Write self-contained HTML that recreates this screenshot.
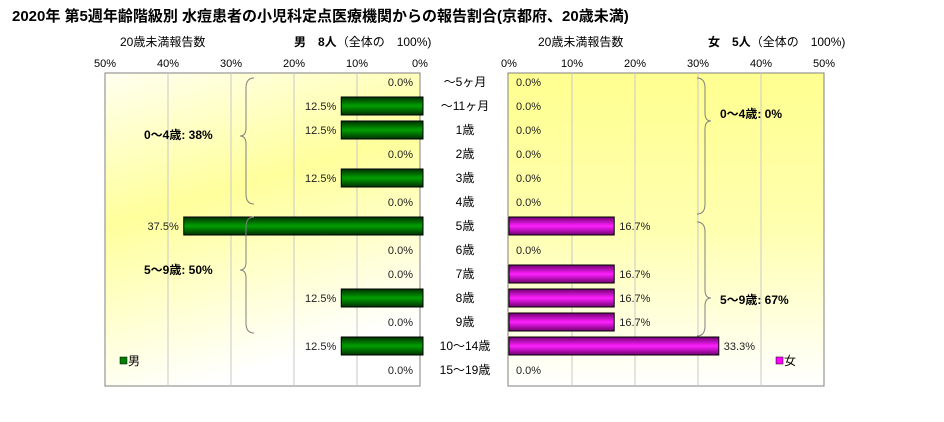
<!DOCTYPE html>
<html><head><meta charset="utf-8">
<style>
body{margin:0;background:#fff;font-family:"Liberation Sans","Noto Sans CJK JP",sans-serif;}
svg text{font-family:"Liberation Sans","Noto Sans CJK JP",sans-serif;}
</style></head>
<body>
<svg id="c" width="944" height="417" viewBox="0 0 944 417" xmlns="http://www.w3.org/2000/svg">
<defs>
<linearGradient id="bg" x1="0" y1="0" x2="0.3" y2="1">
<stop offset="0" stop-color="#fffff0"/><stop offset="0.45" stop-color="#ffff9c"/><stop offset="1" stop-color="#ffffff"/>
</linearGradient>
<linearGradient id="bg2" x1="0" y1="0" x2="0" y2="1">
<stop offset="0" stop-color="#ffff90"/><stop offset="0.5" stop-color="#ffffb0"/><stop offset="1" stop-color="#ffffff"/>
</linearGradient>
<linearGradient id="gm" x1="0" y1="0" x2="0" y2="1">
<stop offset="0" stop-color="#003000"/><stop offset="0.5" stop-color="#00a000"/><stop offset="1" stop-color="#003000"/>
</linearGradient>
<linearGradient id="gf" x1="0" y1="0" x2="0" y2="1">
<stop offset="0" stop-color="#700070"/><stop offset="0.5" stop-color="#ff20ff"/><stop offset="1" stop-color="#700070"/>
</linearGradient>
</defs>
<text x="12" y="21" font-size="15" font-weight="bold">2020年 第5週年齢階級別 水痘患者の小児科定点医療機関からの報告割合(京都府、20歳未満)</text>
<text x="120" y="46" font-size="12">20歳未満報告数</text>
<text x="294" y="46" font-size="12"><tspan font-weight="bold">男　8人</tspan>（全体の　100%)</text>
<text x="538" y="46" font-size="12">20歳未満報告数</text>
<text x="708" y="46" font-size="12"><tspan font-weight="bold">女　5人</tspan>（全体の　100%)</text>
<rect x="105" y="73" width="315" height="313" fill="url(#bg)" stroke="#808080"/>
<rect x="508" y="73" width="316" height="313" fill="url(#bg2)" stroke="#808080"/>
<g id="grid"></g>
<g id="bars"></g>
<g id="brackets" fill="none" stroke="#808080" stroke-width="1">
<path d="M254,78 q-8,0 -8,10 v40 q0,8 -6,8 q6,0 6,8 v50 q0,10 8,10"/>
<path d="M254,217 q-8,0 -8,10 v35 q0,8 -6,8 q6,0 6,8 v45 q0,10 8,10"/>
<path d="M697,78 q8,0 8,10 v25 q0,8 6,8 q-6,0 -6,8 v75 q0,10 -8,10"/>
<path d="M697,222 q8,0 8,10 v58 q0,8 6,8 q-6,0 -6,8 v20 q0,10 -8,10"/>
</g>
<text x="144" y="139" font-size="12" font-weight="bold">0～4歳: 38%</text>
<text x="144" y="274" font-size="12" font-weight="bold">5～9歳: 50%</text>
<text x="720" y="118" font-size="12" font-weight="bold">0～4歳: 0%</text>
<text x="720" y="304" font-size="12" font-weight="bold">5～9歳: 67%</text>
<rect x="120" y="357" width="7" height="7" fill="#008000" stroke="#000" stroke-width="0.5"/>
<text x="128" y="365" font-size="12">男</text>
<rect x="776" y="357" width="7" height="7" fill="#ff00ff" stroke="#000" stroke-width="0.5"/>
<text x="784" y="365" font-size="12">女</text>
</svg>
<script>
const categories=["～5ヶ月","～11ヶ月","1歳","2歳","3歳","4歳","5歳","6歳","7歳","8歳","9歳","10～14歳","15～19歳"];
const maleValues=[0,12.5,12.5,0,12.5,0,37.5,0,0,12.5,0,12.5,0];
const femaleValues=[0,0,0,0,0,0,16.7,0,16.7,16.7,16.7,33.3,0];
const tickValues=[0,10,20,30,40,50];
const NS="http://www.w3.org/2000/svg";
const mx=v=>420-v*6.3, fx=v=>509+v*6.3, ry=i=>82+i*24;
const grid=document.getElementById('grid'), bars=document.getElementById('bars');
function mk(p,tag,a){const e=document.createElementNS(NS,tag);for(const k in a)e.setAttribute(k,a[k]);p.appendChild(e);return e;}
tickValues.forEach(t=>{
  if(t>0&&t<50){
    const l1=mk(grid,'line',{x1:mx(t),x2:mx(t),y1:73,y2:386,stroke:'#c8c8c8'});
    
    
    const l2=mk(grid,'line',{x1:fx(t),x2:fx(t),y1:73,y2:386,stroke:'#c8c8c8'});
    
    
  }
  const a=mk(grid,'text',{x:mx(t),y:67,'font-size':11,'text-anchor':'middle'});a.textContent=t+'%';
  
  
  const b=mk(grid,'text',{x:fx(t),y:67,'font-size':11,'text-anchor':'middle'});b.textContent=t+'%';
  
  
});
categories.forEach((c,i)=>{
  const y=ry(i);
  const lab=mk(bars,'text',{x:465,y:y+4,'font-size':12,'text-anchor':'middle'});lab.textContent=c;
  
  
  const m=maleValues[i], f=femaleValues[i];
  if(m>0){const r=mk(bars,'rect',{x:mx(m),y:y-9,width:mx(0)-mx(m)+3,height:18,fill:'url(#gm)',stroke:'#000'});
    
    }
  const mt=mk(bars,'text',{x:m>0?mx(m)-5:413,y:y+4,'font-size':11,'text-anchor':'end',fill:'#222'});mt.textContent=m.toFixed(1)+'%';
  
  
  if(f>0){const r=mk(bars,'rect',{x:fx(0),y:y-9,width:fx(f)-fx(0),height:18,fill:'url(#gf)',stroke:'#000'});
    
    }
  const ft=mk(bars,'text',{x:f>0?fx(f)+5:516,y:y+4,'font-size':11,fill:'#222'});ft.textContent=f.toFixed(1)+'%';
  
  
});
</script>
</body></html>
